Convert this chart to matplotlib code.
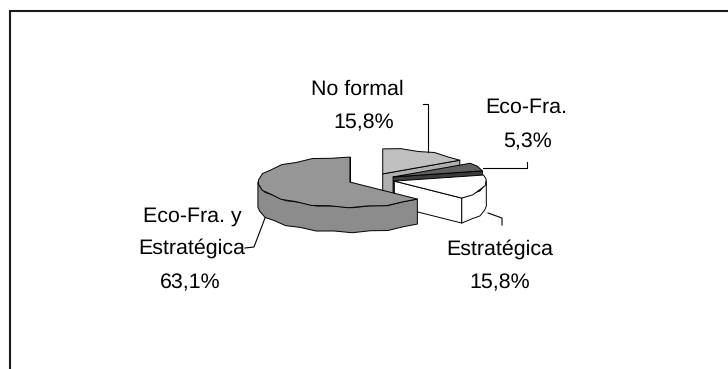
import numpy as np
import matplotlib
matplotlib.use('Agg')
import matplotlib.pyplot as plt
from matplotlib.patches import Polygon

plt.rcParams['font.family'] = ['Liberation Sans', 'DejaVu Sans']
plt.rcParams['text.hinting'] = 'none'

categories = ['No formal', 'Eco-Fra.', 'Estratégica', 'Eco-Fra. y\nEstratégica']
values = [15.8, 5.3, 15.8, 63.1]
top_colors = ['#c0c0c0', '#606060', '#ffffff', '#969696']
side_colors = ['#b0b0b0', '#3c3c3c', '#ffffff', '#8c8c8c']

# pie geometry, in pixels
cx, cy = 371.5, 179.5
rx, ry = 92, 25
depth = 25
explode = 0.256
arc_step = 12


def arc(a1, a2, ox, oy, dy=0):
    # rim points, coarse on purpose so the outline looks faceted
    n = max(2, int(abs(a1 - a2) / arc_step) + 2)
    t = np.radians(np.linspace(a1, a2, n))
    x = ox + rx * np.cos(t)
    y = oy - ry * np.sin(t)
    wave = 0.7 * np.cos(np.arange(n) * np.pi)
    wave[0] = wave[-1] = 0
    return np.column_stack([x, y + wave + dy])


fig = plt.figure(figsize=(7.28, 3.69), dpi=100)
ax = fig.add_axes([0, 0, 1, 1])
ax.set_xlim(0, 728)
ax.set_ylim(369, 0)
ax.axis('off')

# chart border, only left and top show
ax.plot([9.5, 9.5, 728], [369, 10.5, 10.5], color='#1a1a1a', lw=1.5, solid_joinstyle='miter')

start = 90.0
total = sum(values)
for i, v in enumerate(values):
    end = start - v / total * 360
    mid = np.radians((start + end) / 2)
    ox = cx + explode * rx * np.cos(mid)
    oy = cy - explode * ry * np.sin(mid)
    edge = dict(ec='black', lw=0.7, joinstyle='round')

    # cut face at the clockwise end
    ex = ox + rx * np.cos(np.radians(end))
    ey = oy - ry * np.sin(np.radians(end))
    face = [(ox, oy), (ex, ey), (ex, ey + depth), (ox, oy + depth)]
    ax.add_patch(Polygon(face, fc=side_colors[i], **edge))

    # outer rim, only the part facing front
    a1, a2 = min(start, 0), max(end, -180)
    if a1 > a2:
        upper = arc(a1, a2, ox, oy)
        lower = arc(a2, a1, ox, oy, depth)
        ax.add_patch(Polygon(np.vstack([upper, lower]), fc=side_colors[i], **edge))

    # top face
    pts = np.vstack([[(ox, oy)], arc(start, end, ox, oy)])
    ax.add_patch(Polygon(pts, fc=top_colors[i], **edge))
    start = end

# leader lines
leaders = [
    ([423, 428, 428], [104, 104, 152]),
    ([483, 527, 527], [168, 168, 162]),
    ([488, 502, 502], [213, 218, 225]),
    ([245, 254, 265], [248, 247, 218]),
]
for lx, ly in leaders:
    ax.plot(lx, ly, color='black', lw=0.8)

pct = [f'{v:.1f}%'.replace('.', ',') for v in values]
fs = 15.4
ax.text(357, 95, categories[0], ha='center', fontsize=fs)
ax.text(364, 128, pct[0], ha='center', fontsize=fs)
ax.text(526, 113, categories[1], ha='center', fontsize=fs)
ax.text(528, 147, pct[1], ha='center', fontsize=fs)
ax.text(500, 255, categories[2], ha='center', fontsize=fs)
ax.text(500, 288, pct[2], ha='center', fontsize=fs)
line1, line2 = categories[3].split('\n')
ax.text(192, 222, line1, ha='center', fontsize=fs)
ax.text(192, 254, line2, ha='center', fontsize=fs)
ax.text(190, 288, pct[3], ha='center', fontsize=fs)

fig.savefig('out.png', dpi=100)
